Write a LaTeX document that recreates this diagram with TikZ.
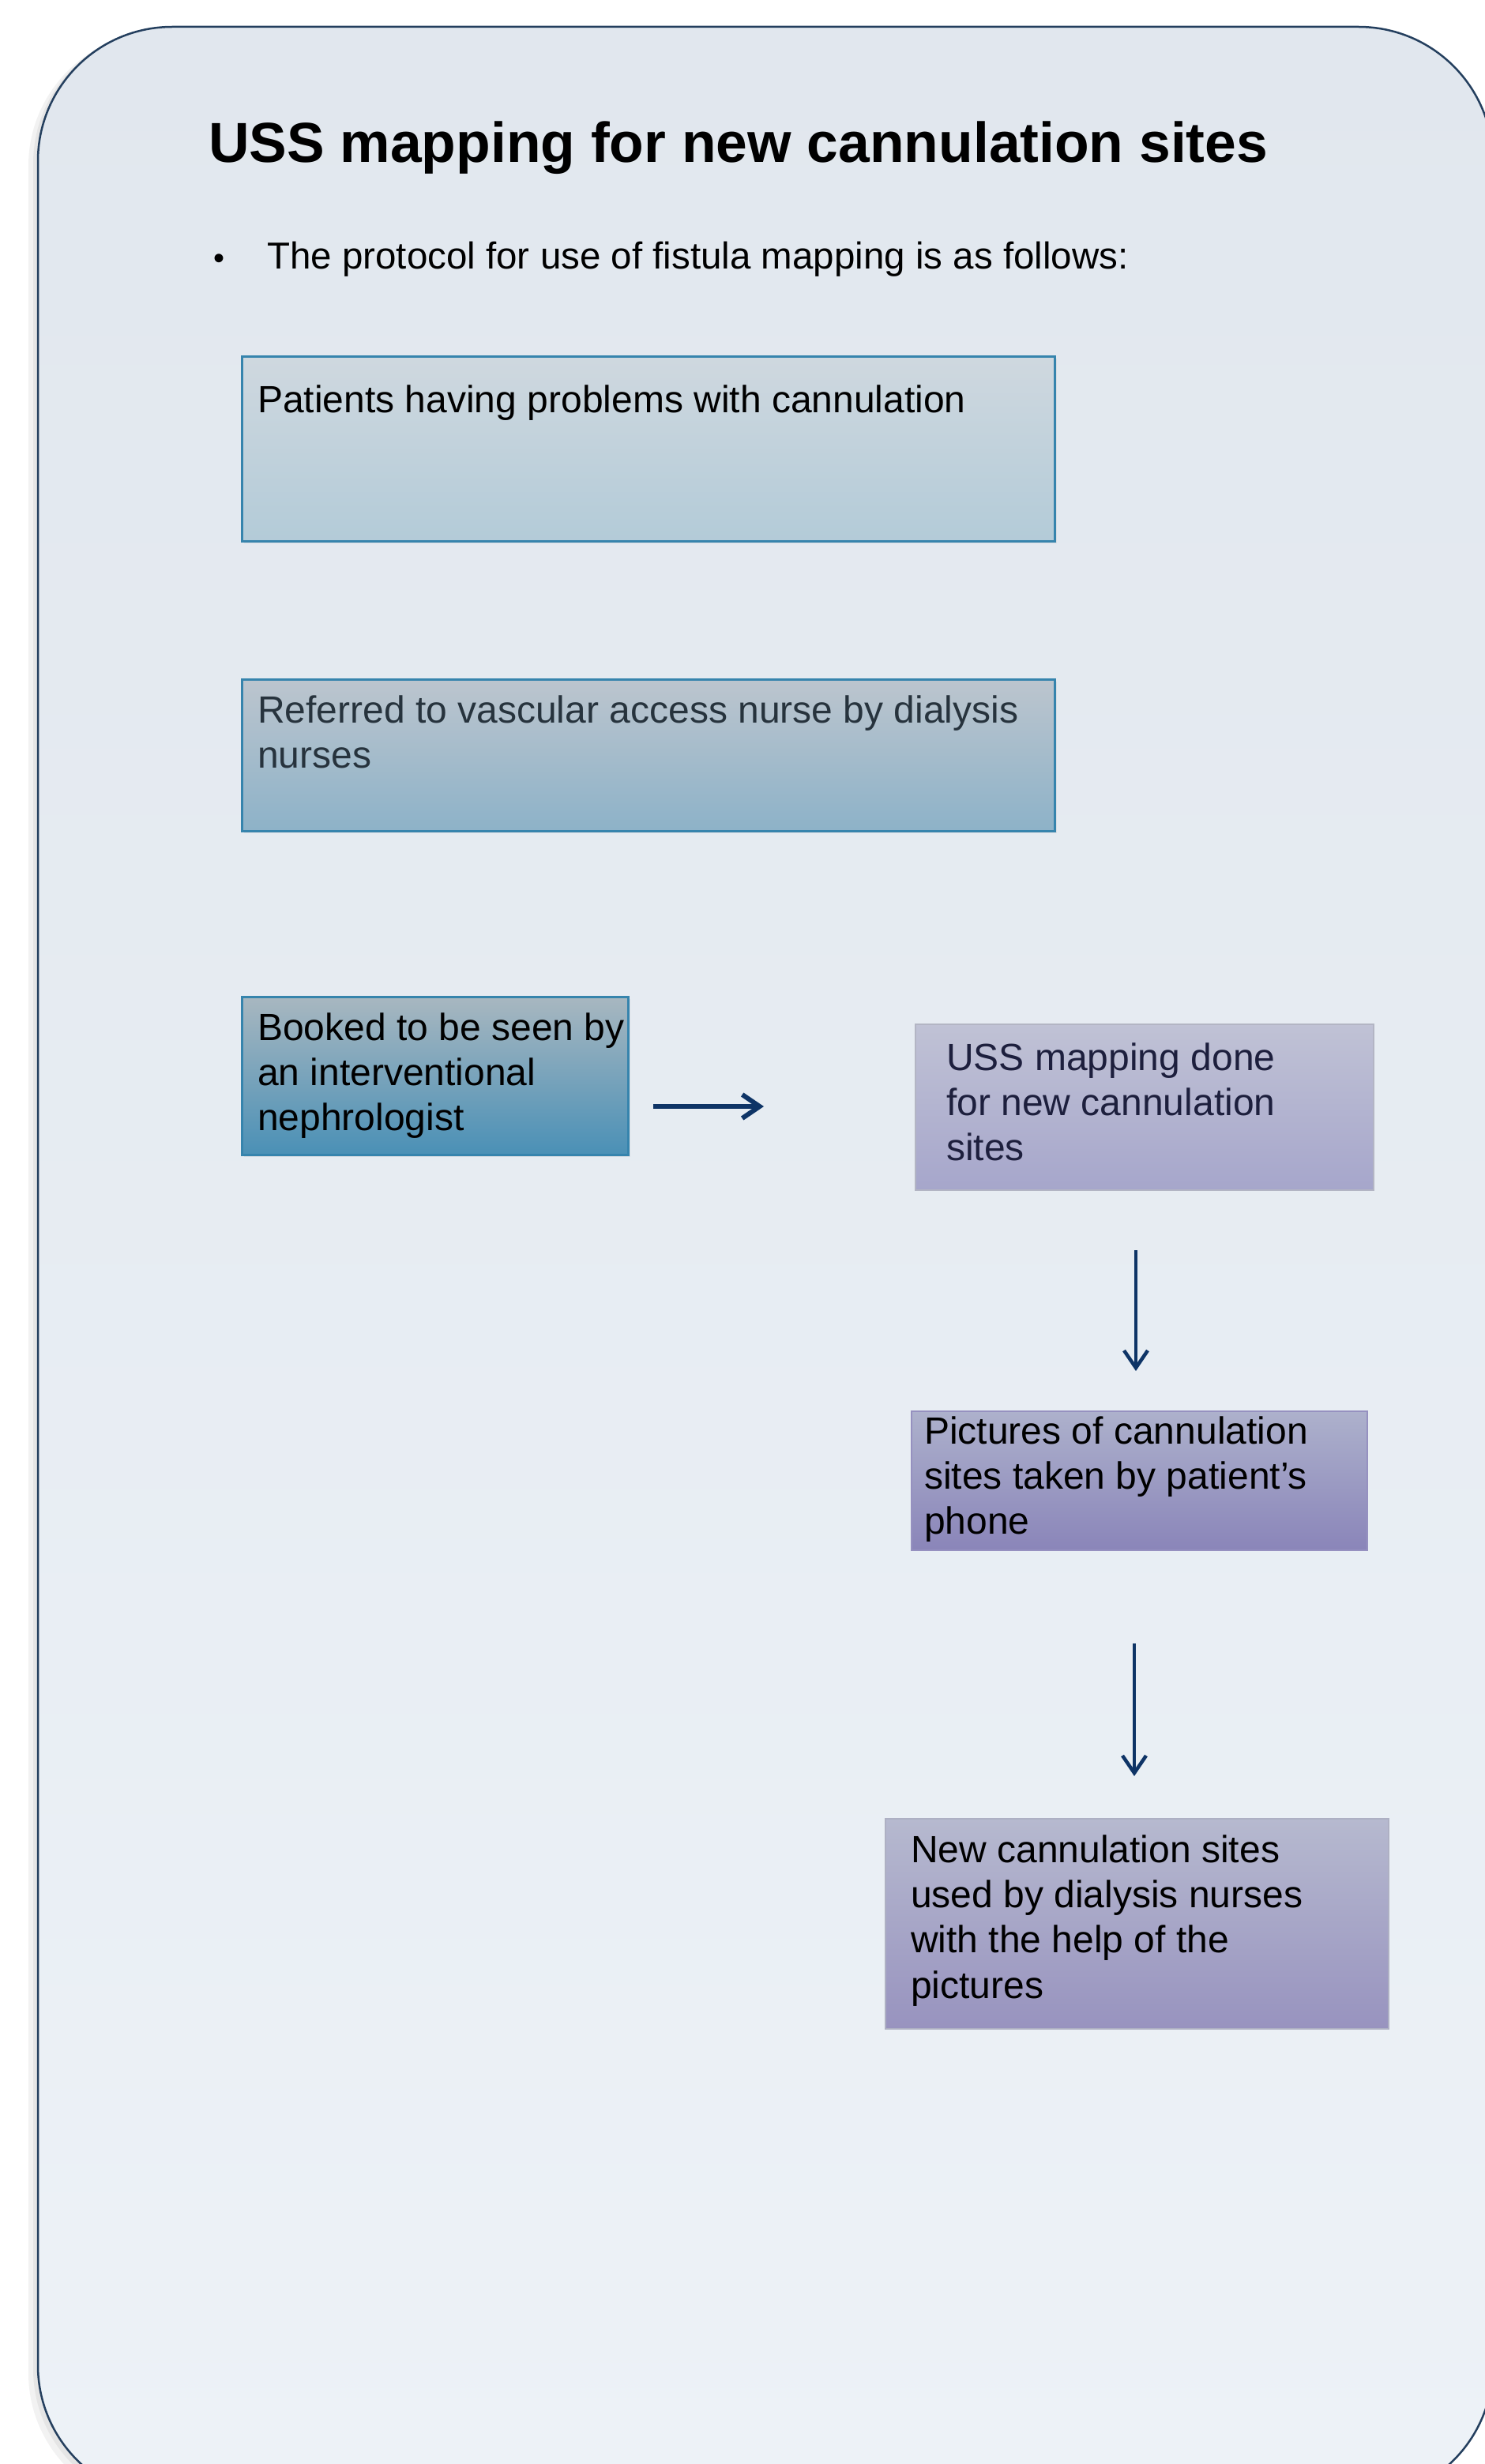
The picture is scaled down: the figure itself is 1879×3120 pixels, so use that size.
\documentclass[tikz,border=0pt]{standalone}
\usepackage{fontspec}
\setmainfont{Liberation Sans}
\usetikzlibrary{arrows.meta,shadows,calc}
\definecolor{frameblue}{HTML}{243F5E}
\definecolor{bgtop}{HTML}{E1E7EE}
\definecolor{bgbot}{HTML}{EDF2F7}
\definecolor{bAtop}{HTML}{CFD8DF}
\definecolor{bAbot}{HTML}{B3CBD8}
\definecolor{bBtop}{HTML}{BCC5CE}
\definecolor{bBbot}{HTML}{8DB2C8}
\definecolor{bCtop}{HTML}{A8B7C0}
\definecolor{bCbot}{HTML}{4A90B6}
\definecolor{tealline}{HTML}{3684AD}
\definecolor{bDtop}{HTML}{C0C2D5}
\definecolor{bDbot}{HTML}{A6A6CB}
\definecolor{bEtop}{HTML}{ADB1CC}
\definecolor{bEbot}{HTML}{8A85B9}
\definecolor{bFtop}{HTML}{B6B9CF}
\definecolor{bFbot}{HTML}{9893BF}
\definecolor{arrowblue}{HTML}{0E3466}
\definecolor{greytext}{HTML}{27333D}
\definecolor{navytext}{HTML}{1D1F3D}
\newcommand{\boxfont}{\fontsize{48}{57.4}\selectfont}
\begin{document}
\begin{tikzpicture}[x=1pt,y=-1pt,
  flowbox/.style={rectangle, inner sep=0pt, anchor=north west, line width=2.5pt},
  softshadow/.style={drop shadow={opacity=0.12, shadow xshift=3pt, shadow yshift=-3pt}},
  boxtext/.style={inner sep=0pt, anchor=base west},
  flowarrow/.style={draw=arrowblue, -{Straight Barb[length=22pt,width=30pt]}}
]
\useasboundingbox (0,0) rectangle (1879,3120);
\fill[white] (0,0) rectangle (1879,3120);
% frame shadow
\fill[black, opacity=0.05, rounded corners=170pt] (36,40) rectangle (1880,3175);
\fill[black, opacity=0.05, rounded corners=170pt] (42,37) rectangle (1885,3170);
% frame
\path[draw=frameblue, line width=2.5pt, rounded corners=170pt, top color=bgtop, bottom color=bgbot] (48,34) rectangle (1890,3165);

% title and bullet
\node[boxtext] (title) at (264,206) {\fontsize{71.4}{80}\selectfont\bfseries USS mapping for new cannulation sites};
\node[boxtext] (bullet) at (270,340) {\fontsize{40}{48}\selectfont •};
\node[boxtext] (intro) at (338,340) {\fontsize{47.5}{57}\selectfont The protocol for use of fistula mapping is as follows:};

% boxes
\node[flowbox, softshadow, draw=tealline, top color=bAtop, bottom color=bAbot, minimum width=1029pt, minimum height=234pt] (b1) at (305,450) {};
\node[boxtext] (t1) at ($(b1.north west)+(21,72)$) {\parbox[t]{1000pt}{\boxfont Patients having problems with cannulation}};

\node[flowbox, softshadow, draw=tealline, top color=bBtop, bottom color=bBbot, minimum width=1029pt, minimum height=192pt] (b2) at (305,859) {};
\node[boxtext, text=greytext] (t2) at ($(b2.north west)+(21,56)$) {\parbox[t]{1000pt}{\boxfont Referred to vascular access nurse by dialysis\\nurses}};

\node[flowbox, softshadow, draw=tealline, top color=bCtop, bottom color=bCbot, minimum width=489pt, minimum height=200pt] (b3) at (305,1261) {};
\node[boxtext] (t3) at ($(b3.north west)+(21,56)$) {\parbox[t]{600pt}{\boxfont Booked to be seen by\\an interventional\\nephrologist}};

\node[flowbox, draw=bDtop!80!gray, line width=1.5pt, top color=bDtop, bottom color=bDbot, minimum width=580pt, minimum height=210pt] (b4) at (1158,1296) {};
\node[boxtext, text=navytext] (t4) at ($(b4.north west)+(40,59)$) {\parbox[t]{600pt}{\boxfont USS mapping done\\for new cannulation\\sites}};

\node[flowbox, draw=bEbot!90!white, line width=1.5pt, top color=bEtop, bottom color=bEbot, minimum width=577pt, minimum height=176pt] (b5) at (1153,1786) {};
\node[boxtext] (t5) at ($(b5.north west)+(17,42)$) {\parbox[t]{600pt}{\boxfont Pictures of cannulation\\sites taken by patient’s\\phone}};

\node[flowbox, draw=bFtop!85!gray, line width=1.5pt, top color=bFtop, bottom color=bFbot, minimum width=637pt, minimum height=266pt] (b6) at (1120,2302) {};
\node[boxtext] (t6) at ($(b6.north west)+(33,56)$) {\parbox[t]{620pt}{\boxfont New cannulation sites\\used by dialysis nurses\\with the help of the\\pictures}};

% arrows
\coordinate (h1s) at (827,1401);
\coordinate (h1e) at (967,1401);
\coordinate (v1s) at (1438,1583);
\coordinate (v1e) at (1438,1736);
\coordinate (v2s) at (1436,2081);
\coordinate (v2e) at (1436,2249);
\draw[flowarrow, line width=6pt] (h1s) -- (h1e);
\draw[flowarrow, line width=4.5pt] (v1s) -- (v1e);
\draw[flowarrow, line width=4.5pt] (v2s) -- (v2e);
\end{tikzpicture}
\end{document}
